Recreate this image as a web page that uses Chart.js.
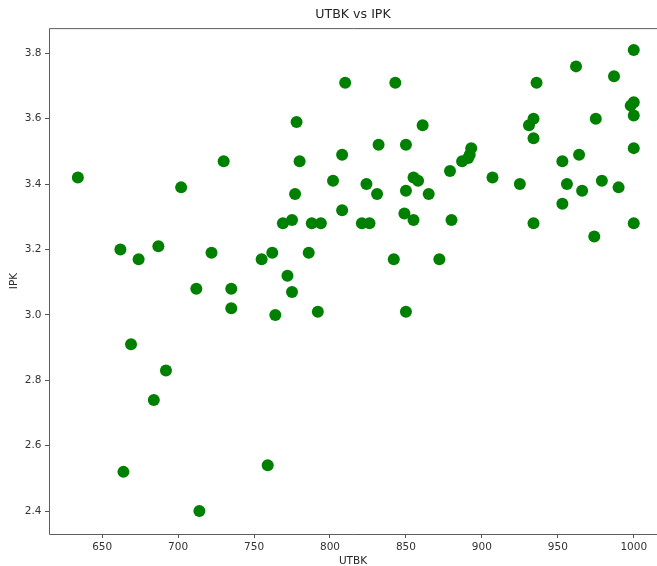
<!DOCTYPE html>
<html>
<head>
<meta charset="utf-8">
<script src="https://cdn.jsdelivr.net/npm/chart.js@4.4.1/dist/chart.umd.min.js"></script>
<style>
    html, body { margin: 0; padding: 0; background: #fff; overflow: hidden; }
    canvas { display: block; }
</style>
</head>
<body>
<canvas id="scatterCtx" width="657" height="566"></canvas>
<script>
// values
var utbk = [634, 662, 674, 687, 669, 692, 684, 664, 702, 712, 722, 730, 735, 735, 714,
    755, 762, 764, 759, 769, 775, 772, 775, 777, 778, 780, 786, 788, 794, 792,
    802, 808, 808, 810, 821, 824, 826, 831, 832, 842, 843, 849, 850, 850, 850,
    855, 855, 858, 861, 865, 872, 879, 880, 887, 891, 893, 892, 907, 925, 931,
    934, 934, 934, 936, 953, 953, 956, 962, 964, 966, 974, 975, 979, 987, 990,
    998, 1000, 1000, 1000, 1000, 1000]
var ipk = [3.42, 3.20, 3.17, 3.21, 2.91, 2.83, 2.74, 2.52, 3.39, 3.08, 3.19, 3.47, 3.08, 3.02, 2.40,
    3.17, 3.19, 3.00, 2.54, 3.28, 3.29, 3.12, 3.07, 3.37, 3.59, 3.47, 3.19, 3.28, 3.28, 3.01,
    3.41, 3.32, 3.49, 3.71, 3.28, 3.40, 3.28, 3.37, 3.52, 3.17, 3.71, 3.31, 3.38, 3.52, 3.01,
    3.29, 3.42, 3.41, 3.58, 3.37, 3.17, 3.44, 3.29, 3.47, 3.48, 3.51, 3.49, 3.42, 3.40, 3.58,
    3.60, 3.54, 3.28, 3.71, 3.47, 3.34, 3.40, 3.76, 3.49, 3.38, 3.24, 3.60, 3.41, 3.73, 3.39,
    3.64, 3.81, 3.65, 3.61, 3.51, 3.28]

var xTicks = [650, 700, 750, 800, 850, 900, 950, 1000]
var yTicks = [2.4, 2.6, 2.8, 3.0, 3.2, 3.4, 3.6, 3.8]

var points = utbk.map(function(v, i) { return {x: v, y: ipk[i]} })

// box round the plot area, right side is cut off in the picture
var frame = {
    id: 'frame',
    beforeDatasetsDraw: function(chart) {
        var a = chart.chartArea
        var c = chart.ctx
        c.save()
        c.strokeStyle = '#5c5c5c'
        c.lineWidth = 1
        c.beginPath()
        c.moveTo(a.right + 2, a.top + 0.5)
        c.lineTo(a.left + 0.5, a.top + 0.5)
        c.lineTo(a.left + 0.5, a.bottom + 0.5)
        c.lineTo(a.right + 2, a.bottom + 0.5)
        c.stroke()
        c.restore()
    }
}

var tickFont = {family: 'DejaVu Sans', size: 10.5}

new Chart(document.getElementById('scatterCtx'), {
    type: 'scatter',
    data: {
        datasets: [{
            data: points,
            backgroundColor: '#008000',
            borderColor: '#008000',
            borderWidth: 0,
            pointRadius: 6,
            pointHoverRadius: 6
        }]
    },
    options: {
        responsive: false,
        animation: false,
        devicePixelRatio: 1,
        layout: {padding: 0, autoPadding: false},
        plugins: {
            legend: {display: false},
            tooltip: {enabled: false},
            title: {
                display: true,
                fullSize: false,
                text: 'UTBK vs IPK',
                color: '#262626',
                font: {family: 'DejaVu Sans', size: 12.6, weight: 'normal'},
                padding: {top: 7, bottom: 6}
            }
        },
        scales: {
            x: {
                type: 'linear',
                min: 615,
                max: 1015.3,
                afterBuildTicks: function(s) { s.ticks = xTicks.map(function(v) { return {value: v} }) },
                afterFit: function(s) { s.height = 32; s.paddingLeft = 0; s.paddingRight = 0 },
                grid: {display: true, drawOnChartArea: false, drawTicks: true, tickLength: 4, color: '#555'},
                border: {display: false},
                ticks: {color: '#333', font: tickFont, padding: 3, maxRotation: 0,
                    callback: function(v) { return String(v) }},
                title: {display: true, text: 'UTBK', color: '#262626', font: tickFont,
                    padding: {top: 0, bottom: -2}}
            },
            y: {
                type: 'linear',
                min: 2.33,
                max: 3.877,
                afterBuildTicks: function(s) { s.ticks = yTicks.map(function(v) { return {value: v} }) },
                afterFit: function(s) { s.width = 49; s.paddingTop = 0; s.paddingBottom = 0 },
                grid: {display: true, drawOnChartArea: false, drawTicks: true, tickLength: 4, color: '#555'},
                border: {display: false},
                ticks: {color: '#333', font: tickFont, padding: 3.5,
                    callback: function(v) { return v.toFixed(1) }},
                title: {display: true, text: 'IPK', color: '#262626', font: tickFont,
                    padding: {top: 7.7, bottom: 0}}
            }
        }
    },
    plugins: [frame]
})
</script>
</body>
</html>
